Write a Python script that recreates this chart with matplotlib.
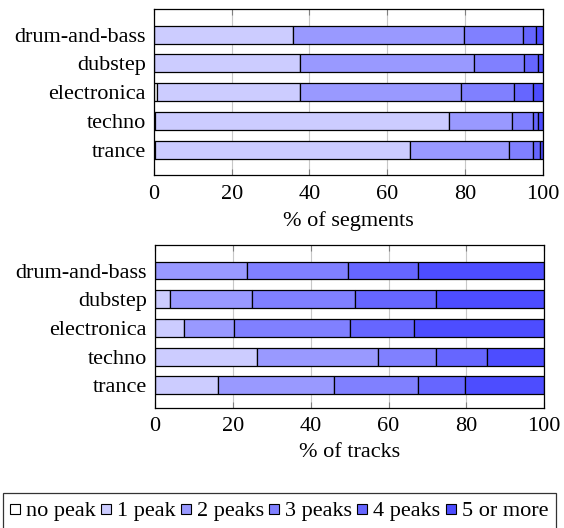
import numpy as np
import matplotlib
matplotlib.use('Agg')
import matplotlib.pyplot as plt
from matplotlib.lines import Line2D

plt.rcParams['font.family'] = ['Liberation Serif', 'DejaVu Serif']
plt.rcParams['font.size'] = 16

genres = ['drum-and-bass', 'dubstep', 'electronica', 'techno', 'trance']
peak_labels = ['no peak', '1 peak', '2 peaks', '3 peaks', '4 peaks', '5 or more']
colors = ['#ffffff', '#ccccff', '#9999ff', '#8080ff', '#6666ff', '#4d4dff']

# share of segments per peak count (rows: genres, cols: peak classes)
segments = np.array([
    [0.0, 35.7, 44.1, 15.2, 3.3, 1.7],
    [0.0, 37.6, 44.8, 12.8, 3.5, 1.3],
    [0.9, 36.7, 41.3, 13.6, 4.9, 2.6],
    [0.3, 75.6, 16.1,  5.4, 1.5, 1.1],
    [0.2, 65.7, 25.4,  6.3, 1.7, 0.7],
])

# share of tracks per peak count
tracks = np.array([
    [0.0,  0.0, 23.7, 26.0, 17.9, 32.4],
    [0.0,  3.9, 21.1, 26.3, 21.0, 27.7],
    [0.0,  7.4, 13.0, 29.6, 16.6, 33.4],
    [0.0, 26.2, 31.2, 14.7, 13.2, 14.7],
    [0.0, 16.2, 29.8, 21.6, 12.1, 20.3],
])


def stacked(ax, data, xlabel, ylim):
    y = np.arange(len(genres))
    left = np.zeros(len(genres))
    for k in range(data.shape[1]):
        ax.barh(y, data[:, k], left=left, height=0.62, color=colors[k],
                edgecolor='black', linewidth=0.9, zorder=2)
        left += data[:, k]
    ax.set_xlim(0, 100)
    ax.set_ylim(*ylim)
    ax.set_yticks(y)
    ax.set_yticklabels(genres)
    ax.set_xticks([0, 20, 40, 60, 80, 100])
    ax.grid(axis='x', color='#c8c8c8', linewidth=0.8, zorder=0)
    ax.set_axisbelow(True)
    ax.tick_params(axis='x', direction='in', top=True, length=4, width=0.8,
                   color='#808080', pad=7)
    ax.tick_params(axis='y', length=0, pad=6)
    for s in ax.spines.values():
        s.set_linewidth(0.9)
    ax.set_xlabel(xlabel, labelpad=5)


fig = plt.figure(figsize=(5.64, 5.28), dpi=100)
ax1 = fig.add_axes([0.2730, 0.6686, 0.6892, 0.3138])
ax2 = fig.add_axes([0.2748, 0.2278, 0.6902, 0.3087])

stacked(ax1, segments, '% of segments', (4.88, -0.88))
stacked(ax2, tracks, '% of tracks', (4.78, -0.90))

# small square swatches for the legend
handles = [Line2D([], [], linestyle='none', marker='s', markersize=7,
                  markerfacecolor=c, markeredgecolor='black',
                  markeredgewidth=0.8) for c in colors]
leg = fig.legend(handles, peak_labels, loc='upper left',
                 bbox_to_anchor=(3 / 564, 1 - 493 / 528), ncol=6,
                 frameon=True, fancybox=False, edgecolor='black',
                 handlelength=0.42, handletextpad=0.28,
                 columnspacing=0.25, borderpad=0.35, borderaxespad=0,
                 fontsize=16)
leg.get_frame().set_linewidth(0.9)

fig.savefig('out.png', dpi=100)
